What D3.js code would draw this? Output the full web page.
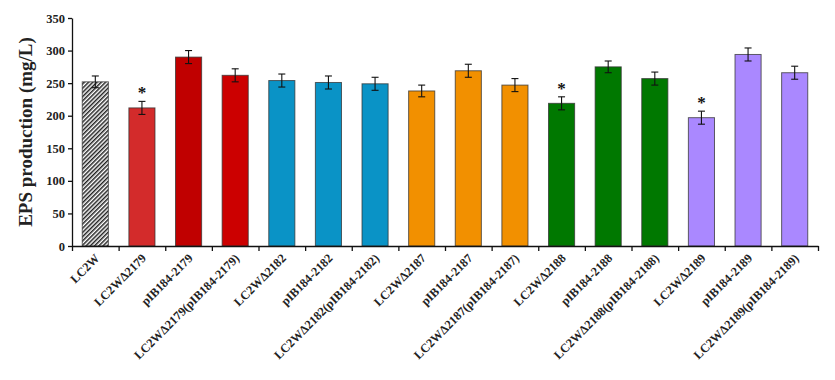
<!DOCTYPE html>
<html>
<head>
<meta charset="utf-8">
<script src="https://cdn.jsdelivr.net/npm/d3@7"></script>
<style>
  body { margin: 0; background: #fff; }
  text { font-family: "Liberation Serif", "Times New Roman", serif; font-weight: bold; }
</style>
</head>
<body>
<div id="chart"></div>
<script>
// Strain names along the x axis
const strains = [
  "LC2W", "LC2WΔ2179", "pIB184-2179", "LC2WΔ2179(pIB184-2179)",
  "LC2WΔ2182", "pIB184-2182", "LC2WΔ2182(pIB184-2182)",
  "LC2WΔ2187", "pIB184-2187", "LC2WΔ2187(pIB184-2187)",
  "LC2WΔ2188", "pIB184-2188", "LC2WΔ2188(pIB184-2188)",
  "LC2WΔ2189", "pIB184-2189", "LC2WΔ2189(pIB184-2189)"
];
// EPS production (mg/L)
const eps = [252, 212, 290, 262, 254, 251, 249, 238, 269, 247, 219, 275, 257, 197, 294, 266];
// Error bar half-widths
const errs = [9, 10, 10, 10, 10, 10, 10, 9, 10, 10, 10, 9, 10, 10, 10, 10];
// Significance markers
const signif = [false, true, false, false, false, false, false, false, false, false, true, false, false, true, false, false];
const fills = [
  "url(#hatch)", "#d32b2b", "#c00000", "#cc0000",
  "#0a93c6", "#0a93c6", "#0a93c6",
  "#f29000", "#f29000", "#f29000",
  "#007800", "#007800", "#007800",
  "#aa88ff", "#aa88ff", "#aa88ff"
];
const yTicks = [0, 50, 100, 150, 200, 250, 300, 350];

const W = 835, H = 380;
const margin = { top: 18, right: 17, bottom: 134, left: 72 };

const svg = d3.select("#chart").append("svg")
    .attr("width", W)
    .attr("height", H);

// diagonal hatch for the wild type bar
const pat = svg.append("defs").append("pattern")
    .attr("id", "hatch")
    .attr("patternUnits", "userSpaceOnUse")
    .attr("width", 3).attr("height", 3)
    .attr("patternTransform", "rotate(45)");
pat.append("rect").attr("width", 3).attr("height", 3).attr("fill", "#fff");
pat.append("rect").attr("width", 1.5).attr("height", 3).attr("fill", "#222");

const x = d3.scaleBand()
    .domain(strains)
    .range([margin.left, W - margin.right])
    .paddingInner(0.44)
    .paddingOuter(0.22);

// boundaries between categories, for the x ticks
const xEdge = d3.scaleLinear()
    .domain([0, strains.length])
    .range([margin.left, W - margin.right]);

const y = d3.scaleLinear()
    .domain([0, 350])
    .range([H - margin.bottom, margin.top]);

// bars
svg.append("g")
    .selectAll("rect")
    .data(strains)
    .join("rect")
    .attr("x", d => x(d))
    .attr("y", (d, i) => y(eps[i]))
    .attr("width", x.bandwidth())
    .attr("height", (d, i) => y(0) - y(eps[i]))
    .attr("fill", (d, i) => fills[i])
    .attr("stroke", "#333")
    .attr("stroke-opacity", 0.75)
    .attr("stroke-width", 1);

// error bars
const eb = svg.append("g").attr("stroke", "#111").attr("stroke-width", 1.1);
strains.forEach((d, i) => {
  const cx = x(d) + x.bandwidth() / 2;
  eb.append("line").attr("x1", cx).attr("x2", cx)
    .attr("y1", y(eps[i] + errs[i])).attr("y2", y(eps[i] - errs[i]));
  eb.append("line").attr("x1", cx - 3.5).attr("x2", cx + 3.5)
    .attr("y1", y(eps[i] + errs[i])).attr("y2", y(eps[i] + errs[i]));
  eb.append("line").attr("x1", cx - 3.5).attr("x2", cx + 3.5)
    .attr("y1", y(eps[i] - errs[i])).attr("y2", y(eps[i] - errs[i]));
});

// asterisks
svg.append("g")
    .selectAll("text")
    .data(strains.filter((d, i) => signif[i]))
    .join("text")
    .attr("x", d => x(d) + x.bandwidth() / 2)
    .attr("y", d => { const i = strains.indexOf(d); return y(eps[i] + errs[i]) - 3; })
    .attr("text-anchor", "middle")
    .attr("font-size", 17)
    .attr("fill", "#111")
    .text("*");

// y axis
const yAxis = svg.append("g")
    .attr("transform", `translate(${margin.left},0)`)
    .call(d3.axisLeft(y).tickValues(yTicks).tickSize(4).tickSizeOuter(0));
yAxis.select(".domain").attr("stroke", "#111").attr("stroke-width", 1.3);
yAxis.selectAll(".tick line").attr("stroke", "#111").attr("stroke-width", 1.3);
yAxis.selectAll("text").attr("font-size", 12.5).attr("fill", "#222")
    .style("font-family", "'Liberation Serif', serif").style("font-weight", "bold");

// x axis (ticks at category boundaries)
const xAxis = svg.append("g")
    .attr("transform", `translate(0,${y(0)})`)
    .call(d3.axisBottom(xEdge).tickValues(d3.range(strains.length + 1)).tickFormat("").tickSize(5).tickSizeOuter(0));
xAxis.select(".domain").attr("stroke", "#111").attr("stroke-width", 1.5);
xAxis.selectAll(".tick line").attr("stroke", "#111").attr("stroke-width", 1.3);

// x labels
svg.append("g")
    .selectAll("text")
    .data(strains)
    .join("text")
    .attr("transform", d => `translate(${x(d) + x.bandwidth() / 2 + 5},${y(0) + 13}) rotate(-45)`)
    .attr("text-anchor", "end")
    .attr("font-size", 12.3)
    .attr("fill", "#222")
    .text(d => d);

// y axis title
svg.append("text")
    .attr("transform", `translate(32,${(y(0) + y(350)) / 2}) rotate(-90)`)
    .attr("text-anchor", "middle")
    .attr("font-size", 19)
    .attr("fill", "#222")
    .text("EPS production (mg/L)");
</script>
</body>
</html>
